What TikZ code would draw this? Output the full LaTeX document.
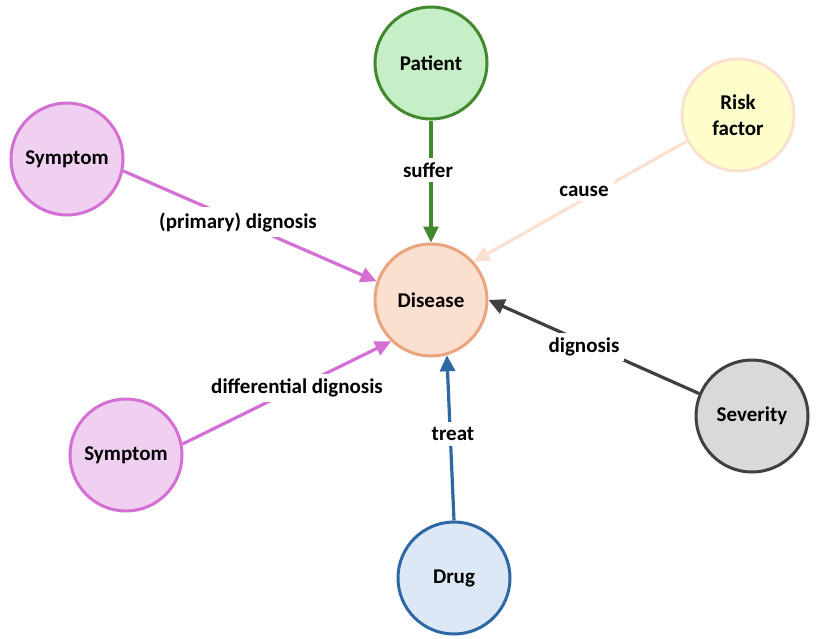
\documentclass[tikz,border=0pt]{standalone}
\usepackage{fontspec}
\setmainfont{Carlito}
\usetikzlibrary{arrows.meta}

% node fills and outlines
\definecolor{patFill}{RGB}{198,239,200}
\definecolor{patLine}{RGB}{66,136,44}
\definecolor{riskFill}{RGB}{255,255,204}
\definecolor{riskLine}{RGB}{250,224,208}
\definecolor{symFill}{RGB}{240,208,240}
\definecolor{symLine}{RGB}{212,112,212}
\definecolor{disFill}{RGB}{251,223,207}
\definecolor{disLine}{RGB}{235,164,128}
\definecolor{sevFill}{RGB}{217,217,217}
\definecolor{sevLine}{RGB}{64,64,64}
\definecolor{drugFill}{RGB}{220,232,246}
\definecolor{drugLine}{RGB}{46,104,164}

\begin{document}
\begin{tikzpicture}[x=1pt,y=-1pt,
  every node/.style={font=\fontsize{21}{26}\selectfont\bfseries, text=black},
  entity/.style={circle, minimum size=112pt, inner sep=0pt, line width=3pt, align=center},
  rel/.style={line width=3.2pt, -{Triangle[length=16pt,width=15pt]}},
  lbl/.style={fill=white, inner sep=5pt}]

\useasboundingbox (0,0) rectangle (820,638);

% entities
\node[entity, draw=disLine,  fill=disFill]  (dis)  at (431,300) {Disease};
\node[entity, draw=patLine,  fill=patFill]  (pat)  at (431,63)  {Patient};
\node[entity, draw=riskLine, fill=riskFill] (risk) at (738,115) {Risk\\factor};
\node[entity, draw=symLine,  fill=symFill]  (symA) at (67,159)  {Symptom};
\node[entity, draw=symLine,  fill=symFill]  (symB) at (126,455) {Symptom};
\node[entity, draw=sevLine,  fill=sevFill]  (sev)  at (752,416) {Severity};
\node[entity, draw=drugLine, fill=drugFill] (drug) at (454,578) {Drug};

% relations
\draw[rel, patLine]  (pat.-90)  -- (dis.90);
\draw[rel, riskLine] (risk.207) -- (dis.42);
\draw[rel, symLine]  (symA.-12) -- (dis.161);
\draw[rel, symLine]  (symB.11)  -- (dis.226);
\draw[rel, sevLine]  (sev.157)  -- (dis.0);
\draw[rel, drugLine] (drug.90)  -- (dis.-74);

% relation labels
\node[lbl] (lSuffer) at (428,170) {suffer};
\node[lbl] (lCause)  at (584,191) {cause};
\node[lbl] (lPrim)   at (238,222) {(primary) dignosis};
\node[lbl] (lDiff)   at (297,388) {differential dignosis};
\node[lbl] (lSev)    at (584,347) {dignosis};
\node[lbl] (lTreat)  at (453,434) {treat};
\end{tikzpicture}
\end{document}
